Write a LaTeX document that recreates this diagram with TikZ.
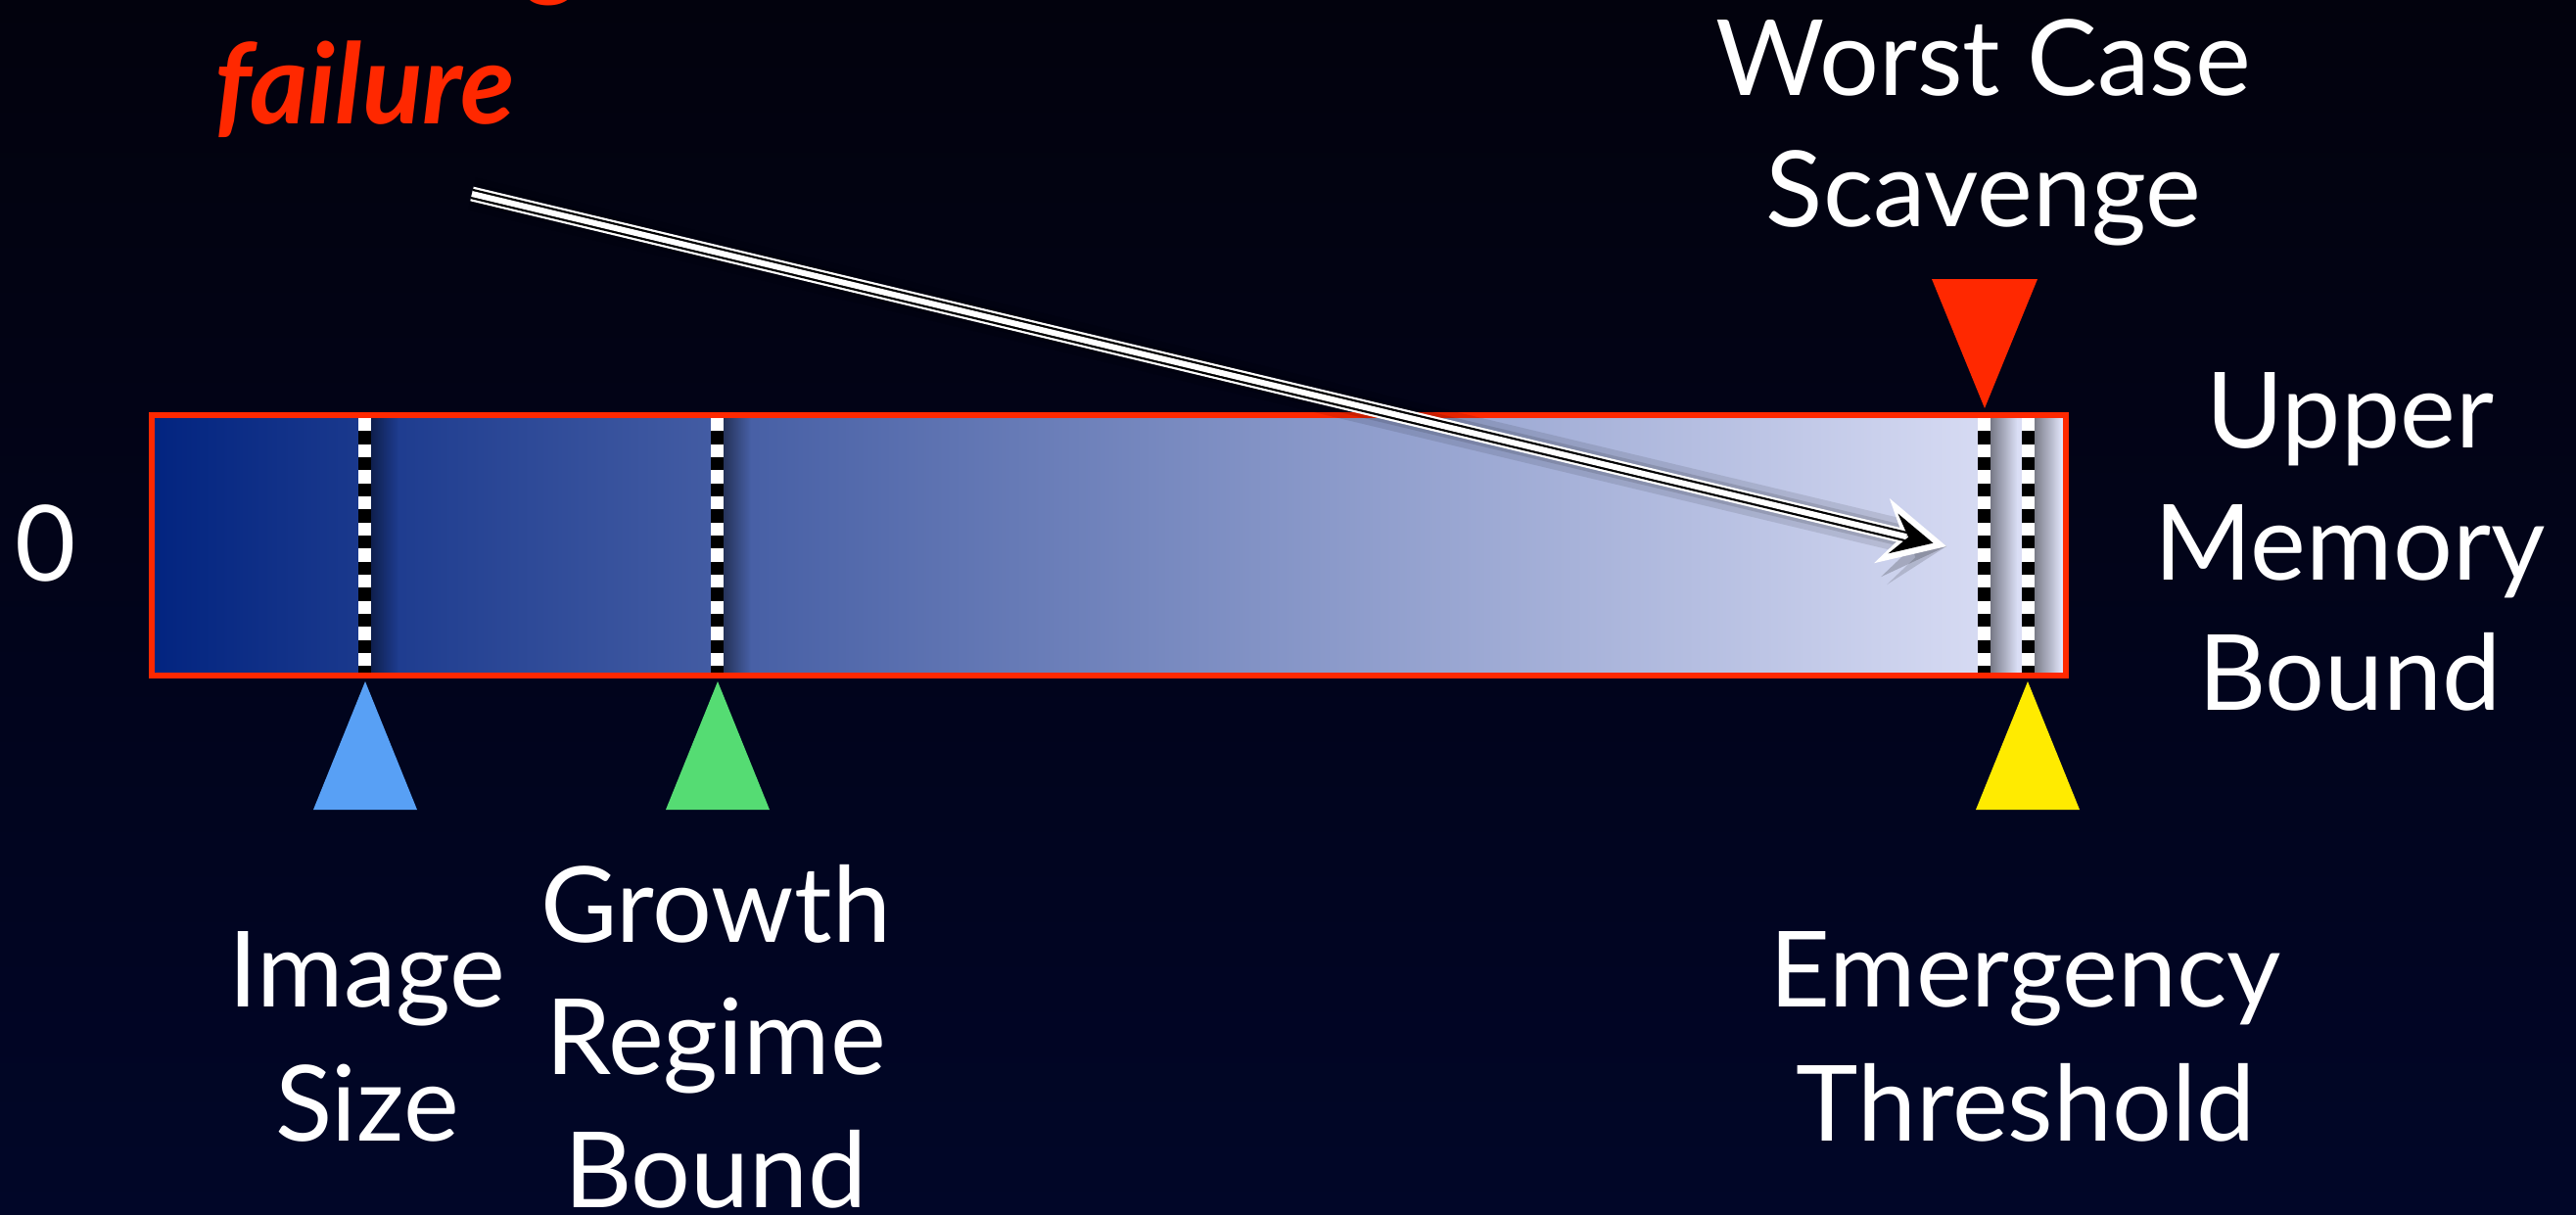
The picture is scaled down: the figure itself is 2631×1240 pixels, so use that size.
\documentclass[tikz,border=0pt]{standalone}
\usepackage{fontspec}
\setmainfont{Lato}
\usetikzlibrary{fadings}
\definecolor{bgtop}{RGB}{2,2,13}
\definecolor{bgbot}{RGB}{1,6,40}
\definecolor{barred}{RGB}{255,40,0}
\definecolor{barA}{RGB}{2,36,128}
\definecolor{barB}{RGB}{122,134,190}
\definecolor{barC}{RGB}{224,227,248}
\definecolor{triblue}{RGB}{88,160,245}
\definecolor{trigreen}{RGB}{85,220,115}
\definecolor{triyellow}{RGB}{255,235,0}
\definecolor{trired}{RGB}{255,40,0}
\tikzfading[name=fadeoutright, left color=transparent!0, right color=transparent!100]
\begin{document}
\begin{tikzpicture}[x=1pt,y=-1pt,
  lbl/.style={text=white, inner sep=0pt, anchor=base, font=\fontsize{107.5}{134}\selectfont},
  redlbl/.style={text=trired, inner sep=0pt, anchor=base, font=\fontsize{114}{134}\selectfont\bfseries\itshape},
  marker/.style={line width=13pt},
  markdash/.style={line width=13pt, black, dash pattern=on 13.33pt off 13.33pt, dash phase=13.33pt},
  markshadow/.style={black, opacity=0.45, path fading=fadeoutright},
  tri/.style={draw=none}]
% background
\shade[top color=bgtop, bottom color=bgbot] (0,0) rectangle (2631,1240);
\useasboundingbox (0,0) rectangle (2631,1240);

% memory bar
\shade[left color=barA, middle color=barB, right color=barC] (155,424) rectangle (2110,690);

% marker lines with shadows
\foreach \mx/\nm in {372.5/m1, 732.5/m2, 2026/m3, 2071/m4}{
  \fill[markshadow] (\mx+6.5,427) rectangle (\mx+34,687);
  \coordinate (\nm top) at (\mx,427);
  \coordinate (\nm bot) at (\mx,687);
  \draw[marker, white] (\nm top) -- (\nm bot);
  \draw[markdash] (\nm top) -- (\nm bot);
}
\draw[barred, line width=6pt] (155,424) rectangle (2110,690);

% triangles
\fill[trired, tri]    (1973,285) -- (2081,285) -- (2027,417) -- cycle;
\fill[triblue, tri]   (320,827) -- (426,827) -- (373,696) -- cycle;
\fill[trigreen, tri]  (680,827) -- (786,827) -- (733,696) -- cycle;
\fill[triyellow, tri] (2018,827) -- (2124,827) -- (2071,696) -- cycle;

% labels
\node[lbl] (zero) at (47,593) {0};
\node[lbl] (wc1) at (2026,97) {Worst Case};
\node[lbl] (wc2) at (2026,231) {Scavenge};
\node[lbl] (um1) at (2400,457) {Upper};
\node[lbl] (um2) at (2400,592) {Memory};
\node[lbl] (um3) at (2400,725) {Bound};
\node[lbl] (is1) at (375,1028) {Image};
\node[lbl] (is2) at (375,1165) {Size};
\node[lbl] (gr1) at (731,962) {Growth};
\node[lbl] (gr2) at (731,1097) {Regime};
\node[lbl] (gr3) at (731,1233) {Bound};
\node[lbl] (et1) at (2069,1028) {Emergency};
\node[lbl] (et2) at (2069,1165) {Threshold};
\node[redlbl, anchor=base east] (fl1) at (598,-15) {Tenuring};
\node[redlbl] (fl2) at (373,126) {failure};

% arrow
\coordinate (as) at (482,198);
\coordinate (an) at (1947.2,548.2);
\coordinate (ae) at (1988,558);
% soft shadow
\begin{scope}[shift={(7,14)}]
  \draw[black, opacity=0.10, line width=34pt] (as) -- (an);
  \draw[black, opacity=0.12, line width=22pt] (as) -- (an);
  \fill[black, opacity=0.2] (ae) -- (1929.8,509.0) -- (1943.3,547.3) -- (1914.0,575.2) -- cycle;
\end{scope}
\begin{scope}[shift={(13,22)}]
  \fill[black, opacity=0.14] (ae) -- (1929.8,509.0) -- (1943.3,547.3) -- (1914.0,575.2) -- cycle;
\end{scope}
% head (white)
\fill[white] (ae) -- (1929.8,509.0) -- (1943.3,547.3) -- (1914.0,575.2) -- cycle;
% shaft stripes
\draw[white, line width=15pt] (as) -- (an);
\draw[black, line width=10.5pt] (as) -- (an);
\draw[white, line width=6pt] (as) -- (an);
% inner black chevron
\fill[black] (1974.4,554.7) -- (1938.4,524.5) -- (1949.1,548.7) -- (1928.6,565.3) -- cycle;
\end{tikzpicture}
\end{document}
